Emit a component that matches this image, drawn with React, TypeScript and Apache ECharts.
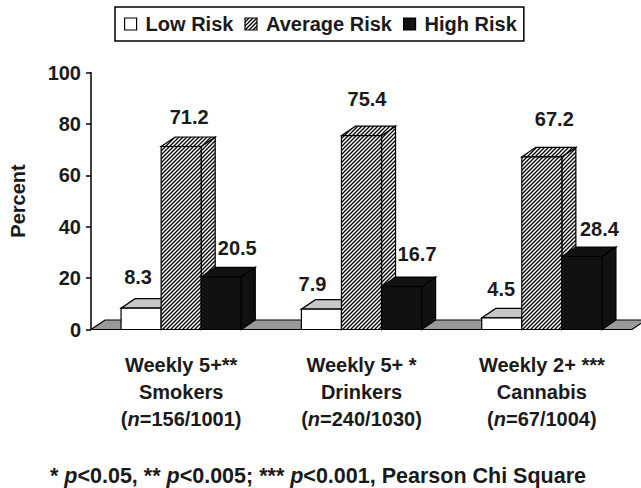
import React, { useEffect, useRef } from 'react';
import * as echarts from 'echarts';

// ---------- data ----------
const SERIES_NAMES = ['Low Risk', 'Average Risk', 'High Risk'];
const CATEGORY_LINE1 = ['Weekly 5+**', 'Weekly 5+ *', 'Weekly 2+ ***'];
const CATEGORY_LINE2 = ['Smokers', 'Drinkers', 'Cannabis'];
const CATEGORY_COUNTS = ['156/1001', '240/1030', '67/1004'];
const LOW_RISK = [8.3, 7.9, 4.5];
const AVERAGE_RISK = [71.2, 75.4, 67.2];
const HIGH_RISK = [20.5, 16.7, 28.4];
const Y_MIN = 0;
const Y_MAX = 100;
const Y_INTERVAL = 20;
const Y_NAME = 'Percent';
const FOOTNOTE = '* {i|p}<0.05, ** {i|p}<0.005; *** {i|p}<0.001, Pearson Chi Square';

// ---------- layout ----------
const FONT = '"Liberation Sans", Arial, Helvetica, sans-serif';
const TEXT_COLOR = '#1a1a1a';
const DX = 14; // 3D depth offset, x
const DY = 9.5; // 3D depth offset, y (upwards)
const BAR_FRACTION = 40 / 180;
// value label offsets from the centre of each bar's front top edge
const LABEL_DX = [
  [-3, -9, -0.5],
  [8, 5.5, 12.5],
  [16, 15.5, 17.5],
];
const LABEL_DY = [
  [-31, -25, -29],
  [-30, -37, -38],
  [-29, -33, -28],
];

function makeHatch() {
  const s = 4;
  const c = document.createElement('canvas');
  c.width = s;
  c.height = s;
  const ctx = c.getContext('2d')!;
  ctx.fillStyle = '#ffffff';
  ctx.fillRect(0, 0, s, s);
  ctx.strokeStyle = '#000000';
  ctx.lineWidth = 1.3;
  ctx.beginPath();
  ctx.moveTo(-1, s + 1);
  ctx.lineTo(s + 1, -1);
  ctx.moveTo(-1, 1);
  ctx.lineTo(1, -1);
  ctx.moveTo(s - 1, s + 1);
  ctx.lineTo(s + 1, s - 1);
  ctx.stroke();
  return { image: c, repeat: 'repeat' };
}

export default function App() {
  const ref = useRef<HTMLDivElement>(null);

  useEffect(() => {
    document.body.style.margin = '0';
    if (!ref.current) return;
    const chart = echarts.init(ref.current, undefined, { renderer: 'svg' });
    const hatch: any = makeHatch();

    const faceStyles = [
      { front: '#ffffff', top: '#c8c8c8', side: '#c8c8c8' },
      { front: hatch, top: hatch, side: hatch },
      { front: '#111111', top: '#111111', side: '#111111' },
    ];
    const legendColors = ['#ffffff', hatch, '#111111'];
    const seriesValues = [LOW_RISK, AVERAGE_RISK, HIGH_RISK];

    const makeRenderItem = (k: number) => (params: any, api: any) => {
      const cat = api.value(0);
      const val = api.value(1);
      const base = api.coord([cat, 0]);
      const top = api.coord([cat, val]);
      const band = api.size([1, 0])[0];
      const bw = band * BAR_FRACTION;
      const x0 = base[0] - 1.5 * bw + k * bw;
      const x1 = x0 + bw;
      const yb = base[1];
      const yt = top[1];
      const st = faceStyles[k];
      const edge = { stroke: '#000000', lineWidth: 1.2 };
      return {
        type: 'group',
        children: [
          {
            type: 'polygon',
            shape: { points: [[x1, yt], [x1 + DX, yt - DY], [x1 + DX, yb - DY], [x1, yb]] },
            style: { fill: st.side, ...edge },
          },
          {
            type: 'polygon',
            shape: { points: [[x0, yt], [x1, yt], [x1 + DX, yt - DY], [x0 + DX, yt - DY]] },
            style: { fill: st.top, ...edge },
          },
          {
            type: 'rect',
            shape: { x: x0, y: yt, width: bw, height: yb - yt },
            style: { fill: st.front, ...edge },
          },
          {
            type: 'text',
            x: x0 + bw / 2 + LABEL_DX[k][cat],
            y: yt + LABEL_DY[k][cat],
            style: {
              text: Number(val).toFixed(1),
              fill: TEXT_COLOR,
              fontSize: 20,
              fontWeight: 'bold',
              fontFamily: FONT,
              align: 'center',
              verticalAlign: 'middle',
            },
          },
        ],
      };
    };

    const floorSeries = {
      type: 'custom',
      name: 'floor',
      silent: true,
      data: [[0, 0]],
      renderItem: (params: any, api: any) => {
        const cs = params.coordSys;
        const yb = api.coord([0, 0])[1];
        return {
          type: 'polygon',
          shape: {
            points: [
              [cs.x, yb],
              [cs.x + cs.width, yb],
              [cs.x + cs.width + DX, yb - DY],
              [cs.x + DX, yb - DY],
            ],
          },
          style: { fill: '#9a9a9a', stroke: '#000000', lineWidth: 1.2 },
        };
      },
    };

    const barSeries = SERIES_NAMES.map((name, k) => ({
      type: 'custom',
      name,
      itemStyle: { color: legendColors[k] },
      data: seriesValues[k].map((v, i) => [i, v]),
      renderItem: makeRenderItem(k),
    }));

    chart.setOption({
      animation: false,
      grid: { left: 91, right: 9, top: 72.5, bottom: 158.5 },
      legend: {
        left: 115,
        top: 7,
        padding: [7, 7, 7, 9],
        borderColor: '#000000',
        borderWidth: 1.5,
        itemWidth: 12,
        itemHeight: 12,
        itemGap: 11,
        icon: 'rect',
        selectedMode: false,
        textStyle: {
          fontSize: 20,
          fontWeight: 'bold',
          fontFamily: FONT,
          color: TEXT_COLOR,
          padding: [0, 0, 0, 4],
        },
        data: SERIES_NAMES.map((n, k) => ({
          name: n,
          itemStyle: { color: legendColors[k], borderColor: '#000000', borderWidth: 1.2 },
        })),
      },
      xAxis: {
        type: 'category',
        data: CATEGORY_LINE2,
        axisLine: { show: false },
        axisTick: { show: false },
        splitLine: { show: false },
        axisLabel: {
          interval: 0,
          margin: 22,
          color: TEXT_COLOR,
          fontSize: 20,
          fontWeight: 'bold',
          fontFamily: FONT,
          lineHeight: 27,
          formatter: (_v: string, i: number) =>
            `${CATEGORY_LINE1[i]}\n${CATEGORY_LINE2[i]}\n({n|n}=${CATEGORY_COUNTS[i]})`,
          rich: {
            n: {
              fontStyle: 'italic',
              fontWeight: 'bold',
              fontSize: 20,
              lineHeight: 27,
              fontFamily: FONT,
              color: TEXT_COLOR,
            },
          },
        },
      },
      yAxis: {
        type: 'value',
        min: Y_MIN,
        max: Y_MAX,
        interval: Y_INTERVAL,
        splitLine: { show: false },
        axisLine: { show: true, lineStyle: { color: '#000000', width: 1.5 } },
        axisTick: { show: true, length: 5, lineStyle: { color: '#000000', width: 1.5 } },
        axisLabel: {
          margin: 10,
          color: TEXT_COLOR,
          fontSize: 20,
          fontWeight: 'bold',
          fontFamily: FONT,
        },
        name: Y_NAME,
        nameLocation: 'middle',
        nameGap: 63,
        nameTextStyle: {
          fontSize: 20,
          fontWeight: 'bold',
          fontFamily: FONT,
          color: TEXT_COLOR,
        },
      },
      graphic: [
        {
          type: 'text',
          x: 50,
          y: 475.5,
          style: {
            text: FOOTNOTE,
            fill: TEXT_COLOR,
            fontSize: 21.5,
            fontWeight: 'bold',
            fontFamily: FONT,
            verticalAlign: 'middle',
            rich: {
              i: {
                fontStyle: 'italic',
                fontWeight: 'bold',
                fontSize: 21.5,
                fontFamily: FONT,
                fill: TEXT_COLOR,
              },
            },
          },
        },
      ],
      series: [floorSeries, ...barSeries],
    });

    return () => {
      chart.dispose();
    };
  }, []);

  return <div ref={ref} style={{ width: 641, height: 488, position: 'absolute', left: 0, top: 0 }} />;
}
